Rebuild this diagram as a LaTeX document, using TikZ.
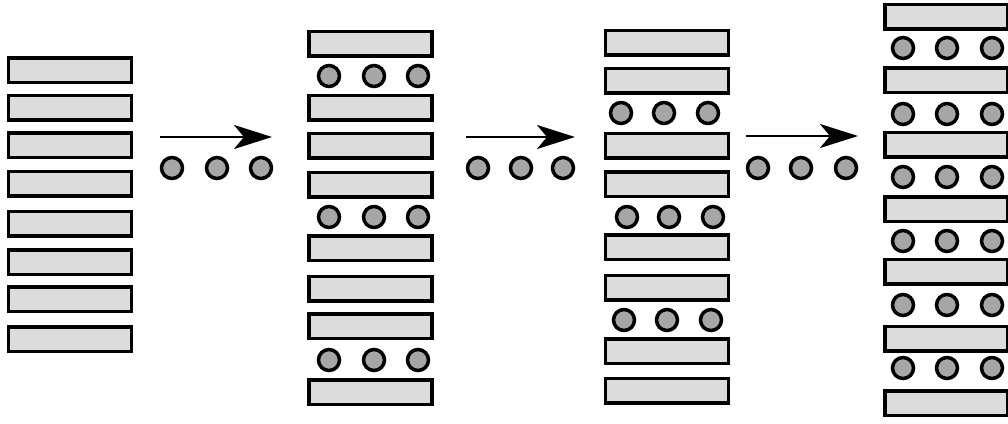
\documentclass[tikz,border=0pt]{standalone}
\usetikzlibrary{arrows.meta}
\definecolor{barfill}{HTML}{DCDCDC}
\definecolor{dotfill}{HTML}{A6A6A6}
\begin{document}
\begin{tikzpicture}[x=1pt,y=-1pt,
  bar/.style={draw=black,line width=3.5pt,fill=barfill,rectangle,inner sep=0pt,minimum width=123pt,minimum height=24.5pt},
  dot/.style={draw=black,line width=3.5pt,fill=dotfill,circle,inner sep=0pt,minimum size=21pt},
  arr/.style={draw=black,line width=2.8pt,-{Stealth[length=38pt,width=24pt,inset=10pt]}}]
\useasboundingbox (0,0) rectangle (1008,423);
\clip (0,0) rectangle (1008,423);
% column 1
\foreach \y [count=\i] in {70,107.5,145,183.5,223.5,262,299,339}
  \node[bar] (a\i) at (70,\y) {};
% arrow 1
\coordinate (p1s) at (160,137);
\coordinate (p1e) at (272,137);
\draw[arr] (p1s) -- (p1e);
\foreach \x [count=\i] in {172,217,261}
  \node[dot] (pa\i) at (\x,168) {};
% column 2
\foreach \y [count=\i] in {43.5,107.5,145.5,184.5,248,288.5,326,392}
  \node[bar] (b\i) at (370.5,\y) {};
\foreach \y [count=\j] in {76,217,360}
  \foreach \x [count=\i] in {329,374,418}
    \node[dot] (bd\j-\i) at (\x,\y) {};
% arrow 2
\coordinate (p2s) at (466,137);
\coordinate (p2e) at (575,137);
\draw[arr] (p2s) -- (p2e);
\foreach \x [count=\i] in {478,521,563}
  \node[dot] (pb\i) at (\x,168) {};
% column 3
\foreach \y [count=\i] in {42.5,80.5,145.5,184,247,287.5,351,390.5}
  \node[bar] (c\i) at (667,\y) {};
\node[dot] (cd1-1) at (621,113) {};
\node[dot] (cd1-2) at (664,113) {};
\node[dot] (cd1-3) at (708,113) {};
\node[dot] (cd2-1) at (627,217) {};
\node[dot] (cd2-2) at (669,217) {};
\node[dot] (cd2-3) at (713,217) {};
\node[dot] (cd3-1) at (624,320) {};
\node[dot] (cd3-2) at (667,320) {};
\node[dot] (cd3-3) at (711,320) {};
% arrow 3
\coordinate (p3s) at (746,136);
\coordinate (p3e) at (858,136);
\draw[arr] (p3s) -- (p3e);
\foreach \x [count=\i] in {758,801,846}
  \node[dot] (pc\i) at (\x,168) {};
% column 4
\foreach \y [count=\i] in {16.5,80,144.5,209,271.5,338.5,403}
  \node[bar] (d\i) at (946.5,\y) {};
\foreach \y [count=\j] in {48,114,177,241,305,368}
  \foreach \x [count=\i] in {903,947,992}
    \node[dot] (dd\j-\i) at (\x,\y) {};
\end{tikzpicture}
\end{document}
